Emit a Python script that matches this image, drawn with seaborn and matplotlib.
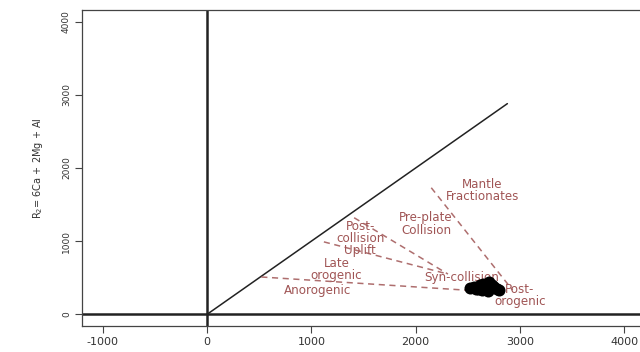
import matplotlib
matplotlib.use("Agg")
import matplotlib.pyplot as plt
import seaborn as sns
import pandas as pd

sns.set_theme(style="white")
plt.rcParams["font.family"] = ["DejaVu Sans"]

# Sample compositions (R1, R2)
r1_values = [2520, 2560, 2600, 2620, 2650, 2680, 2700, 2720, 2750, 2780, 2580, 2640, 2690, 2730, 2610, 2800]
r2_values = [360, 380, 350, 400, 420, 390, 440, 360, 380, 350, 340, 330, 320, 400, 370, 330]

# Field boundaries (dashed) as start/end points
boundary_names = ["mantle", "preplate", "postcoll", "anorogenic"]
boundary_x0 = [2150, 1410, 1120, 520]
boundary_y0 = [1730, 1320, 990, 510]
boundary_x1 = [2930, 2310, 2310, 2810]
boundary_y1 = [330, 550, 550, 300]

# Reference line through the origin
ref_x = [0, 2880]
ref_y = [0, 2880]

# Field names and their label anchors
field_labels = ["Mantle\nFractionates", "Pre-plate\nCollision", "Post-\ncollision\nUplift",
                "Late\norogenic", "Anorogenic", "Syn-collision", "Post-\norogenic"]
field_x = [2640, 2100, 1470, 1240, 1060, 2440, 3000]
field_y = [1690, 1235, 1035, 615, 330, 505, 255]

x_ticks = [-1000, 0, 1000, 2000, 3000, 4000]
y_ticks = [0, 1000, 2000, 3000, 4000]

fig = plt.figure(figsize=(6.4, 3.52), dpi=100)
ax = fig.add_axes([82 / 640, 1 - 326 / 352, (645 - 82) / 640, (326 - 10) / 352])

line_col = "#222222"
field_col = "#a05555"

ax.axhline(0, color=line_col, lw=1.8, zorder=2)
ax.axvline(0, color=line_col, lw=1.8, zorder=2)
sns.lineplot(x=ref_x, y=ref_y, ax=ax, color=line_col, lw=1.1, sort=False, zorder=2)

seg = pd.DataFrame({
    "name": boundary_names * 2,
    "x": boundary_x0 + boundary_x1,
    "y": boundary_y0 + boundary_y1,
})
for name, g in seg.groupby("name"):
    sns.lineplot(data=g, x="x", y="y", ax=ax, color=field_col, lw=1.1,
                 sort=False, linestyle=(0, (4, 3)), alpha=0.85, zorder=3)

for lab, x, y in zip(field_labels, field_x, field_y):
    ax.text(x, y, lab, color=field_col, fontsize=8.6, ha="center", va="center",
            linespacing=0.92, zorder=4)

pts = pd.DataFrame({"R1": r1_values, "R2": r2_values})
sns.scatterplot(data=pts, x="R1", y="R2", ax=ax, color="black", s=75,
                edgecolor="black", linewidth=0, zorder=5)

ax.set_xlim(-1200, 4200)
ax.set_ylim(-160, 4160)
ax.set_xticks(x_ticks)
ax.set_yticks(y_ticks)
ax.set_xticklabels([str(t) for t in x_ticks], fontsize=8, color="#333333")
ax.set_yticklabels([str(t) for t in y_ticks], fontsize=6.5, color="#333333",
                   rotation=90, va="center")
ax.tick_params(axis="both", length=5, width=0.8, color="#444444", direction="out",
               bottom=True, left=True, pad=3)
ax.set_xlabel("")
ax.set_ylabel(r"R$_2$= 6Ca + 2Mg + Al", fontsize=7, labelpad=12, color="#333333")
for s in ax.spines.values():
    s.set_color("#444444")
    s.set_linewidth(0.9)

fig.savefig("out.png", dpi=100)
